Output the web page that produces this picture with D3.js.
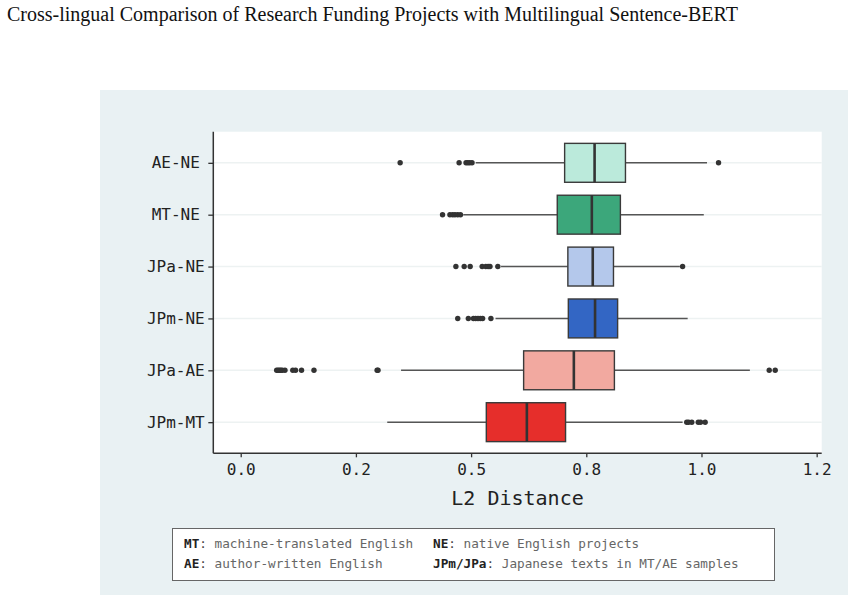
<!DOCTYPE html>
<html>
<head>
<meta charset="utf-8">
<script src="https://cdn.jsdelivr.net/npm/d3@7"></script>
<style>
  html, body { margin: 0; padding: 0; background: #ffffff; }
  svg { display: block; }
</style>
</head>
<body>
<svg id="chart" width="854" height="601"></svg>
<script>
// ---- data ----
const categories = ["AE-NE", "MT-NE", "JPa-NE", "JPm-NE", "JPa-AE", "JPm-MT"];
const whiskerLow = [0.510, 0.483, 0.565, 0.553, 0.348, 0.318];
const q1 =         [0.703, 0.687, 0.710, 0.711, 0.614, 0.533];
const median =     [0.768, 0.762, 0.764, 0.769, 0.723, 0.621];
const q3 =         [0.835, 0.824, 0.809, 0.818, 0.811, 0.705];
const whiskerHigh =[1.012, 1.005, 0.953, 0.970, 1.105, 0.959];
const outliers = [
  [0.346, 0.474, 0.489, 0.493, 0.497, 0.502, 1.037],
  [0.438, 0.454, 0.460, 0.465, 0.471, 0.477],
  [0.467, 0.485, 0.498, 0.524, 0.532, 0.537, 0.541, 0.558, 0.959],
  [0.471, 0.494, 0.505, 0.510, 0.515, 0.520, 0.525, 0.543],
  [0.078, 0.081, 0.084, 0.087, 0.090, 0.096, 0.113, 0.119, 0.132, 0.159, 0.296, 0.298, 1.147, 1.160],
  [0.968, 0.972, 0.979, 0.993, 0.998, 1.008]
];
const boxColors = ["#bbeadb", "#3ca77b", "#b4c8eb", "#3366c4", "#f2a9a0", "#e62e2b"];
const xTickValues = [0, 0.25, 0.5, 0.75, 1.0, 1.25];
const xTickLabels = ["0.0", "0.2", "0.5", "0.8", "1.0", "1.2"];
const titleText = "Cross-lingual Comparison of Research Funding Projects with Multilingual Sentence-BERT";
const xAxisTitle = "L2 Distance";
const legendRows = [
  [{k: "MT", d: "machine-translated English"}, {k: "NE", d: "native English projects"}],
  [{k: "AE", d: "author-written English"}, {k: "JPm/JPa", d: "Japanese texts in MT/AE samples"}]
];

// ---- layout ----
const svg = d3.select("#chart");
const panel = {left: 213.3, right: 821.7, top: 131.7, bottom: 453.3};

svg.append("text")
  .attr("x", 7).attr("y", 21)
  .attr("font-family", "'Liberation Serif', 'Times New Roman', serif")
  .attr("font-size", 20)
  .attr("fill", "#111")
  .text(titleText);

svg.append("rect")
  .attr("x", 100).attr("y", 90).attr("width", 748).attr("height", 505)
  .attr("fill", "#e9f1f3");

svg.append("rect")
  .attr("x", panel.left).attr("y", panel.top)
  .attr("width", panel.right - panel.left).attr("height", panel.bottom - panel.top)
  .attr("fill", "#ffffff");

const x = d3.scaleLinear().domain([-0.0595, 1.2609]).range([panel.left, panel.right]);
const y = d3.scalePoint().domain(categories).range([panel.top, panel.bottom]).padding(0.6);
const boxH = y.step() * 0.75;

const rows = categories.map((c, i) => ({
  c, lo: whiskerLow[i], q1: q1[i], med: median[i], q3: q3[i], hi: whiskerHigh[i],
  out: outliers[i], color: boxColors[i]
}));

// gridlines
svg.append("g").selectAll("line").data(categories).join("line")
  .attr("x1", panel.left).attr("x2", panel.right)
  .attr("y1", d => y(d)).attr("y2", d => y(d))
  .attr("stroke", "#edf2f2").attr("stroke-width", 1.5);

const g = svg.append("g");
const rowG = g.selectAll("g.row").data(rows).join("g").attr("class", "row");

// whiskers
rowG.append("line")
  .attr("x1", d => x(d.lo)).attr("x2", d => x(d.q1))
  .attr("y1", d => y(d.c)).attr("y2", d => y(d.c))
  .attr("stroke", "#555").attr("stroke-width", 1.5);
rowG.append("line")
  .attr("x1", d => x(d.q3)).attr("x2", d => x(d.hi))
  .attr("y1", d => y(d.c)).attr("y2", d => y(d.c))
  .attr("stroke", "#555").attr("stroke-width", 1.5);

// boxes
rowG.append("rect")
  .attr("x", d => x(d.q1)).attr("width", d => x(d.q3) - x(d.q1))
  .attr("y", d => y(d.c) - boxH / 2).attr("height", boxH)
  .attr("fill", d => d.color)
  .attr("stroke", "#3a3a3a").attr("stroke-width", 1.4);

// medians
rowG.append("line")
  .attr("x1", d => x(d.med)).attr("x2", d => x(d.med))
  .attr("y1", d => y(d.c) - boxH / 2).attr("y2", d => y(d.c) + boxH / 2)
  .attr("stroke", "#333").attr("stroke-width", 2.6);

// outliers
rowG.selectAll("circle").data(d => d.out.map(v => ({v, c: d.c}))).join("circle")
  .attr("cx", d => x(d.v)).attr("cy", d => y(d.c)).attr("r", 2.7)
  .attr("fill", "#333");

// axes
const mono = "'DejaVu Sans Mono', monospace";
const xAxis = svg.append("g")
  .attr("transform", `translate(0,${panel.bottom})`)
  .call(d3.axisBottom(x).tickValues(xTickValues)
    .tickFormat((d, i) => xTickLabels[i]).tickSize(4).tickPadding(6).tickSizeOuter(0));
xAxis.select(".domain").remove();
xAxis.selectAll(".tick line").attr("stroke", "#333").attr("stroke-width", 1.3);
xAxis.selectAll(".tick text")
  .attr("font-family", mono).attr("font-size", 16).attr("fill", "#222");

const yAxis = svg.append("g")
  .attr("transform", `translate(${panel.left},0)`)
  .call(d3.axisLeft(y).tickSize(5).tickPadding(6).tickSizeOuter(0));
yAxis.select(".domain").remove();
yAxis.selectAll(".tick line").attr("stroke", "#333").attr("stroke-width", 1.3);
yAxis.selectAll(".tick text")
  .attr("font-family", mono).attr("font-size", 16).attr("fill", "#222")
  .attr("text-anchor", "middle").attr("x", -37.5);

// axis lines
svg.append("line")
  .attr("x1", panel.left).attr("x2", panel.left)
  .attr("y1", panel.top).attr("y2", panel.bottom)
  .attr("stroke", "#333").attr("stroke-width", 1.5);
svg.append("line")
  .attr("x1", panel.left).attr("x2", panel.right)
  .attr("y1", panel.bottom).attr("y2", panel.bottom)
  .attr("stroke", "#333").attr("stroke-width", 1.5);

svg.append("text")
  .attr("x", (panel.left + panel.right) / 2).attr("y", 505)
  .attr("text-anchor", "middle")
  .attr("font-family", mono).attr("font-size", 20).attr("fill", "#222")
  .text(xAxisTitle);

// legend box
svg.append("rect")
  .attr("x", 172.5).attr("y", 528.5).attr("width", 602).attr("height", 52)
  .attr("fill", "#ffffff").attr("stroke", "#666").attr("stroke-width", 1);

const colX = [184, 433];
const rowY = [548, 568];
legendRows.forEach((row, ri) => {
  row.forEach((item, ci) => {
    const t = svg.append("text")
      .attr("x", colX[ci]).attr("y", rowY[ri])
      .attr("font-family", mono).attr("font-size", 12.7).attr("fill", "#666");
    t.append("tspan").attr("font-weight", "bold").attr("fill", "#222").text(item.k);
    t.append("tspan").attr("fill", "#444").text(": ");
    t.append("tspan").text(item.d);
  });
});
</script>
</body>
</html>
